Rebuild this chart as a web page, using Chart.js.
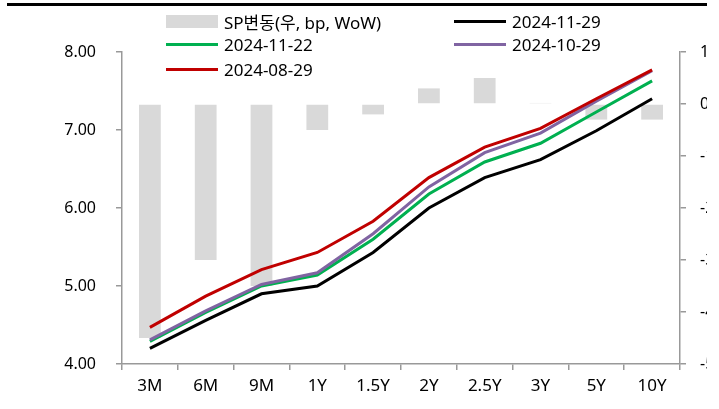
<!DOCTYPE html>
<html>
<head>
<meta charset="utf-8">
<script src="https://cdn.jsdelivr.net/npm/chart.js@4"></script>
<style>
  html, body { margin: 0; padding: 0; background: #fff; overflow: hidden; }
  #wrap { position: relative; width: 719px; height: 409px; }
  #rule { position: absolute; left: 7px; top: 3px; width: 700px; height: 3px; background: #000; }
  #chart { position: absolute; left: 0; top: 0; }
  #legend { position: absolute; left: 0; top: 0; font: 17px "Noto Sans", "Noto Sans CJK KR", sans-serif; color: #000; }
  .item { position: absolute; height: 24px; display: flex; align-items: center; white-space: nowrap; }
  .sw { width: 52px; margin-right: 6px; }
</style>
</head>
<body>
<div id="wrap">
  <canvas id="chart" width="707" height="409"></canvas>
  <div id="rule"></div>
  <div id="legend"></div>
</div>
<script>
const labels = ["3M", "6M", "9M", "1Y", "1.5Y", "2Y", "2.5Y", "3Y", "5Y", "10Y"];
const spChange = [-45, -30, -35, -5, -2, 3, 5, 0.2, -3, -3];
const rate1129 = [4.20, 4.56, 4.90, 5.00, 5.43, 6.00, 6.39, 6.62, 6.99, 7.40];
const rate1122 = [4.29, 4.66, 5.00, 5.14, 5.60, 6.18, 6.59, 6.83, 7.23, 7.63];
const rate1029 = [4.31, 4.68, 5.02, 5.17, 5.67, 6.27, 6.71, 6.96, 7.37, 7.76];
const rate0829 = [4.47, 4.87, 5.21, 5.43, 5.83, 6.39, 6.78, 7.02, 7.40, 7.77];

const FONT = '"Noto Sans", "Noto Sans CJK KR", sans-serif';
const AXIS = "#999999";

const lineSet = (label, data, color, order) => ({
  type: "line",
  label: label,
  data: data,
  yAxisID: "y",
  borderColor: color,
  backgroundColor: color,
  borderWidth: 3,
  pointRadius: 0,
  tension: 0,
  fill: false,
  order: order,
});

const datasets = [
  {
    type: "bar",
    label: "SP변동(우, bp, WoW)",
    data: spChange,
    yAxisID: "y1",
    backgroundColor: "#d9d9d9",
    borderWidth: 0,
    barPercentage: 0.39,
    categoryPercentage: 1,
    order: 10,
  },
  lineSet("2024-11-29", rate1129, "#000000", 4),
  lineSet("2024-11-22", rate1122, "#00b050", 3),
  lineSet("2024-10-29", rate1029, "#8064a2", 2),
  lineSet("2024-08-29", rate0829, "#c00000", 1),
];

// legend, two columns, row by row
const legend = document.getElementById("legend");
const colX = [166, 454];
const rowY = [9, 32, 57];
datasets.forEach((ds, i) => {
  const item = document.createElement("div");
  item.className = "item";
  item.style.left = colX[i % 2] + "px";
  item.style.top = rowY[Math.floor(i / 2)] + "px";
  const sw = document.createElement("span");
  sw.className = "sw";
  sw.style.background = ds.type === "bar" ? ds.backgroundColor : ds.borderColor;
  sw.style.height = ds.type === "bar" ? "13px" : "3px";
  item.appendChild(sw);
  item.appendChild(document.createTextNode(ds.label));
  legend.appendChild(item);
});

new Chart(document.getElementById("chart"), {
  data: { labels: labels, datasets: datasets },
  options: {
    responsive: false,
    animation: false,
    layout: { padding: { top: 52, left: 0, right: 0, bottom: 0 } },
    plugins: { legend: { display: false }, tooltip: { enabled: false } },
    scales: {
      x: {
        offset: true,
        grid: { offset: true, drawOnChartArea: false, color: AXIS, tickLength: 6, lineWidth: 1.5 },
        border: { color: AXIS, width: 1.5 },
        ticks: { color: "#000", font: { family: FONT, size: 17 }, padding: 6, maxRotation: 0 },
        afterFit: (s) => { s.height = 45; },
      },
      y: {
        position: "left",
        min: 4,
        max: 8,
        ticks: {
          stepSize: 1,
          color: "#000",
          font: { family: FONT, size: 16 },
          padding: 20,
          callback: (v) => v.toFixed(2),
        },
        grid: { drawOnChartArea: false, color: AXIS, tickLength: 6, lineWidth: 1.5 },
        border: { color: AXIS, width: 1.5 },
        afterFit: (s) => { s.width = 122; },
      },
      y1: {
        position: "right",
        min: -50,
        max: 10,
        ticks: { stepSize: 10, color: "#000", font: { family: FONT, size: 16 }, padding: 14 },
        grid: { drawOnChartArea: false, color: AXIS, tickLength: 6, lineWidth: 1.5 },
        border: { color: AXIS, width: 1.5 },
        afterFit: (s) => { s.width = 27; },
      },
    },
  },
});
</script>
</body>
</html>
